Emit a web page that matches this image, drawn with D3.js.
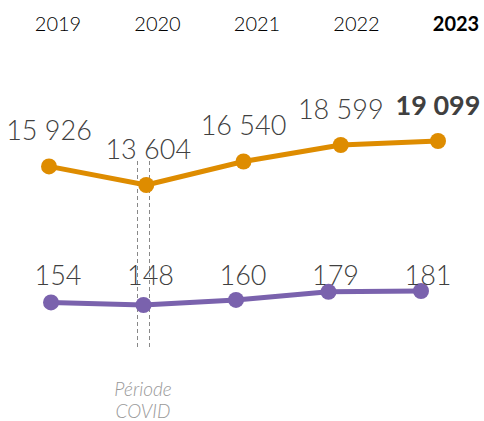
<!DOCTYPE html>
<html><head><meta charset="utf-8">
<script src="https://cdn.jsdelivr.net/npm/d3@7"></script>
<style>body{margin:0;background:#fff}</style>
</head><body>
<script>
const years = ["2019","2020","2021","2022","2023"];
const visitors = [15926, 13604, 16540, 18599, 19099];
const sites = [154, 148, 160, 179, 181];
const covidLabel = ["Période", "COVID"];

const W = 484, H = 421;
const svg = d3.select("body").append("svg").attr("width", W).attr("height", H);

const xYear = d3.scalePoint().domain(years).range([58, 456]);
const xTop = d3.scalePoint().domain(years).range([49, 438]);
const xBot = d3.scalePoint().domain(years).range([51, 421]);
const yTop = d3.scaleLinear().domain([13604, 19099]).range([185, 141]);
const yBot = d3.scaleLinear().domain([148, 181]).range([305, 291]);
const fmt = v => d3.format(",")(v).replace(/,/g, " ");

// year labels
svg.selectAll("text.year").data(years).join("text")
  .attr("x", d => xYear(d)).attr("y", 31)
  .attr("text-anchor", "middle")
  .attr("font-family", "Lato, sans-serif")
  .attr("font-size", 20)
  .attr("font-weight", (d, i) => i === years.length - 1 ? 700 : 300)
  .attr("fill", "#000")
  .text(d => d);

// covid dashed lines
[137.5, 149.5].forEach(x => {
  svg.append("line").attr("x1", x).attr("x2", x).attr("y1", 161).attr("y2", 350)
    .attr("stroke", "#888").attr("stroke-width", 1).attr("stroke-dasharray", "4,3");
});
svg.selectAll("text.covid").data(covidLabel).join("text")
  .attr("x", 143).attr("y", (d, i) => 396 + i * 22)
  .attr("text-anchor", "middle")
  .attr("font-family", "Lato, sans-serif").attr("font-style", "italic")
  .attr("font-weight", 300)
  .attr("font-size", 19).attr("fill", "#999")
  .text(d => d);

// orange line
const lineTop = d3.line().x((d, i) => xTop(years[i])).y(d => yTop(d));
svg.append("path").datum(visitors).attr("d", lineTop)
  .attr("fill", "none").attr("stroke", "#DE8C00").attr("stroke-width", 5).attr("stroke-linejoin", "round");
svg.selectAll("circle.top").data(visitors).join("circle")
  .attr("cx", (d, i) => xTop(years[i])).attr("cy", d => yTop(d)).attr("r", 8).attr("fill", "#DE8C00");

// purple line
const lineBot = d3.line().x((d, i) => xBot(years[i])).y(d => yBot(d));
svg.append("path").datum(sites).attr("d", lineBot)
  .attr("fill", "none").attr("stroke", "#7A62AD").attr("stroke-width", 5).attr("stroke-linejoin", "round");
svg.selectAll("circle.bot").data(sites).join("circle")
  .attr("cx", (d, i) => xBot(years[i])).attr("cy", d => yBot(d)).attr("r", 8).attr("fill", "#7A62AD");

// labels
svg.selectAll("text.vt").data(visitors).join("text")
  .attr("x", (d, i) => xTop(years[i]) + (i === 1 ? 2 : 0))
  .attr("y", d => yTop(d) - 26)
  .attr("text-anchor", "middle")
  .attr("font-family", "Lato, sans-serif")
  .attr("font-size", 27)
  .attr("font-weight", (d, i) => i === visitors.length - 1 ? 700 : 300)
  .attr("fill", "#404040")
  .text(d => fmt(d));

svg.selectAll("text.vb").data(sites).join("text")
  .attr("x", (d, i) => xBot(years[i]) + 7)
  .attr("y", 285)
  .attr("text-anchor", "middle")
  .attr("font-family", "Lato, sans-serif")
  .attr("font-size", 27)
  .attr("font-weight", 300)
  .attr("fill", "#404040")
  .text(d => d);
</script>
</body></html>
